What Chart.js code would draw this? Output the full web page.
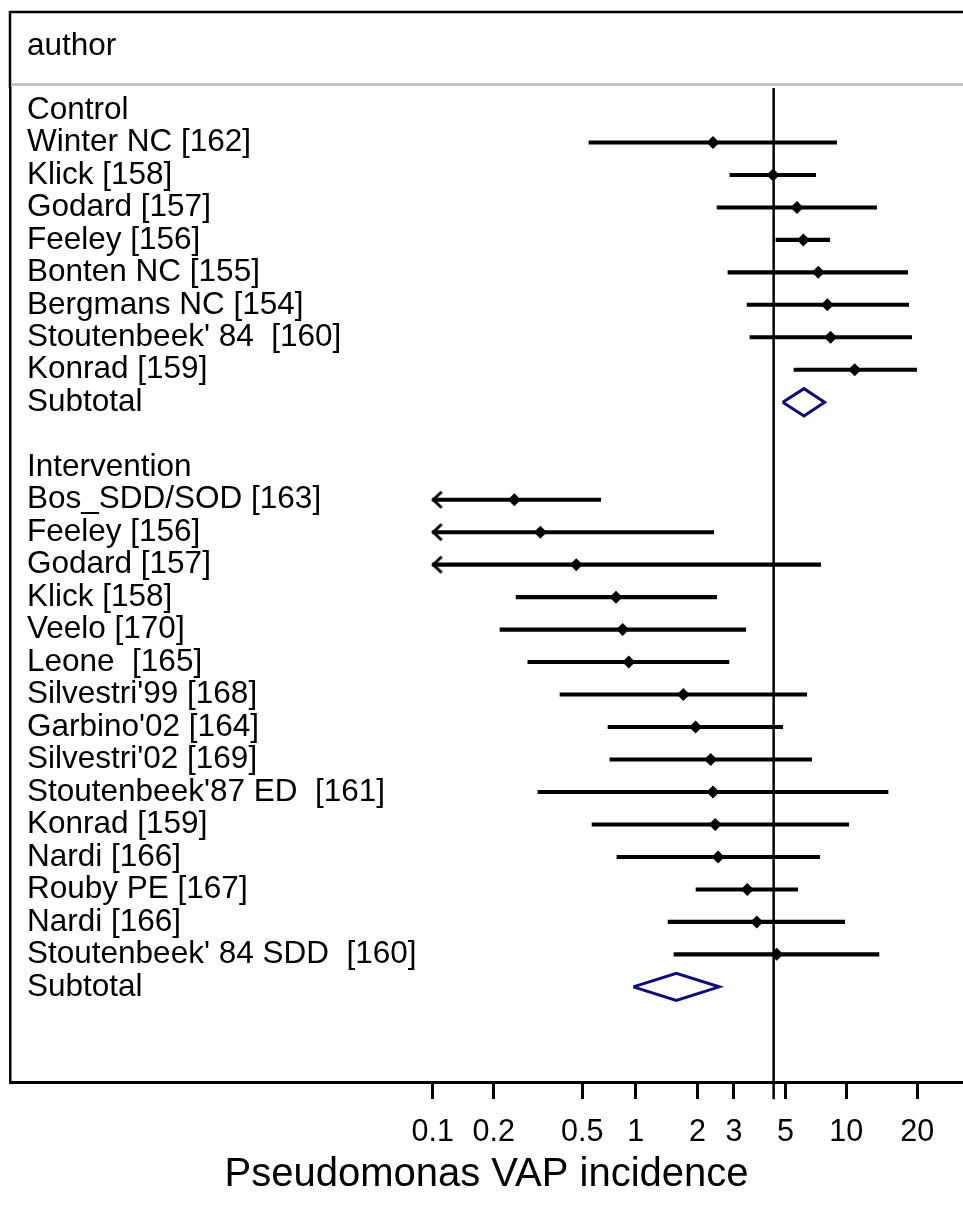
<!DOCTYPE html>
<html>
<head>
<meta charset="utf-8">
<script src="https://cdn.jsdelivr.net/npm/chart.js@4.4.1/dist/chart.umd.min.js"></script>
<style>
html,body{margin:0;padding:0;background:#fff;}
#wrap{width:963px;height:1222px;position:relative;}
</style>
</head>
<body>
<div id="wrap"><canvas id="c" width="963" height="1222"></canvas></div>
<script>
// ---------------- data ----------------
const headerLabel = 'author';
const axisTitle = 'Pseudomonas VAP incidence';

const rowLabels = [
  "Control",
  "Winter NC [162]",
  "Klick [158]",
  "Godard [157]",
  "Feeley [156]",
  "Bonten NC [155]",
  "Bergmans NC [154]",
  "Stoutenbeek' 84  [160]",
  "Konrad [159]",
  "Subtotal",
  "",
  "Intervention",
  "Bos_SDD/SOD [163]",
  "Feeley [156]",
  "Godard [157]",
  "Klick [158]",
  "Veelo [170]",
  "Leone  [165]",
  "Silvestri'99 [168]",
  "Garbino'02 [164]",
  "Silvestri'02 [169]",
  "Stoutenbeek'87 ED  [161]",
  "Konrad [159]",
  "Nardi [166]",
  "Rouby PE [167]",
  "Nardi [166]",
  "Stoutenbeek' 84 SDD  [160]",
  "Subtotal"
];

// study estimates (%) ; null = no study on that row
const estimate = [null, 2.38, 4.61, 5.97, 6.39, 7.48, 8.23, 8.52, 10.91, null, null, null,
  0.253, 0.340, 0.511, 0.801, 0.864, 0.925, 1.71, 1.96, 2.32, 2.38, 2.44, 2.52, 3.48, 3.86, 4.80, null];
// lower CI (%) ; null on a study row = below the axis (drawn clipped with an arrow)
const lower = [null, 0.59, 2.87, 2.49, 4.76, 2.81, 3.47, 3.58, 5.78, null, null, null,
  null, null, null, 0.258, 0.215, 0.295, 0.425, 0.732, 0.748, 0.331, 0.611, 0.810, 1.97, 1.44, 1.54, null];
const upper = [null, 9.07, 7.28, 13.59, 8.43, 18.30, 18.47, 18.99, 19.88, null, null, null,
  0.674, 2.40, 7.68, 2.48, 3.42, 2.84, 6.62, 5.12, 6.98, 15.18, 10.27, 7.60, 6.01, 9.85, 13.90, null];

const subtotalRows = [9, 27];
const subtotalEstimate = [6.43, 1.58];
const subtotalLower = [5.12, 0.974];
const subtotalUpper = [8.00, 2.55];

const referenceValue = 4.64;
const axisFloor = 0.1;

const tickValues = [0.1, 0.2, 0.547, 1, 2, 3, 5.27, 10, 20];
const tickLabels = ['0.1', '0.2', '0.5', '1', '2', '3', '5', '10', '20'];

// ---------------- build ----------------
const lg = p => Math.log(p / (100 - p));   // logit of a percentage

const FONT = "'Liberation Sans', Arial, Helvetica, sans-serif";
Chart.defaults.font.family = FONT;
Chart.defaults.color = '#000';

const X_MIN = -11.722, X_MAX = -0.866;   // axis range (logit units)
const Y_MIN = -0.677, Y_MAX = 29.93;     // row range
const DIAMOND_HALF = 0.42;
const NAVY = '#0d0d75';

const studyRows = estimate.map((v, i) => v === null ? null : i).filter(i => i !== null);

const ciData = studyRows.map(i => ({
  y: i,
  x: [lg(lower[i] === null ? axisFloor : lower[i]), lg(upper[i])]
}));
const pointData = studyRows.map(i => ({ x: lg(estimate[i]), y: i }));
const arrowData = studyRows.filter(i => lower[i] === null).map(i => ({ x: lg(axisFloor), y: i }));

// arrow head image
const arrowImg = document.createElement('canvas');
arrowImg.width = 24; arrowImg.height = 20;
(function () {
  const c = arrowImg.getContext('2d');
  c.strokeStyle = '#000'; c.lineWidth = 3; c.lineCap = 'butt'; c.lineJoin = 'miter';
  c.beginPath(); c.moveTo(21, 2); c.lineTo(12.5, 10); c.lineTo(21, 18); c.stroke();
})();

const diamondSets = subtotalRows.map((r, k) => ({
  type: 'line',
  data: [
    { x: lg(subtotalLower[k]), y: r },
    { x: lg(subtotalEstimate[k]), y: r - DIAMOND_HALF },
    { x: lg(subtotalUpper[k]), y: r },
    { x: lg(subtotalEstimate[k]), y: r + DIAMOND_HALF },
    { x: lg(subtotalLower[k]), y: r }
  ],
  borderColor: NAVY,
  borderWidth: 3,
  borderJoinStyle: 'miter',
  pointRadius: 0,
  pointHoverRadius: 0,
  fill: false,
  tension: 0,
  order: 1
}));

const framePlugin = {
  id: 'frame',
  beforeDraw(chart) {
    const { ctx, chartArea: a } = chart;
    ctx.save();
    ctx.fillStyle = '#fff';
    ctx.fillRect(0, 0, chart.width, chart.height);
    ctx.strokeStyle = '#000';
    ctx.lineWidth = 2.5;
    ctx.beginPath();
    ctx.moveTo(a.left, 12); ctx.lineTo(chart.width, 12);
    ctx.moveTo(a.left, 11); ctx.lineTo(a.left, a.top);
    ctx.stroke();
    ctx.strokeStyle = '#c4c4c4';
    ctx.lineWidth = 3;
    ctx.beginPath();
    ctx.moveTo(a.left + 1, 84.5); ctx.lineTo(chart.width, 84.5);
    ctx.stroke();
    ctx.fillStyle = '#000';
    ctx.font = '31.5px ' + FONT;
    ctx.textBaseline = 'middle';
    ctx.textAlign = 'left';
    ctx.fillText(headerLabel, 27, 46);
    ctx.restore();
  }
};

new Chart(document.getElementById('c'), {
  type: 'scatter',
  data: {
    datasets: [
      {
        type: 'line',
        data: [{ x: lg(referenceValue), y: Y_MIN }, { x: lg(referenceValue), y: Y_MAX + 0.53 }],
        borderColor: '#000',
        borderWidth: 2.5,
        pointRadius: 0,
        pointHoverRadius: 0,
        fill: false,
        clip: false,
        order: 10
      },
      {
        type: 'bar',
        indexAxis: 'y',
        data: ciData,
        backgroundColor: '#000',
        borderWidth: 0,
        barThickness: 3.4,
        order: 5
      },
      {
        type: 'scatter',
        data: arrowData,
        pointStyle: arrowImg,
        pointRadius: 10,
        order: 4
      },
      {
        type: 'scatter',
        data: pointData,
        pointStyle: 'rectRot',
        pointRadius: 6.5,
        backgroundColor: '#000',
        borderColor: '#000',
        borderWidth: 0,
        order: 2
      },
      ...diamondSets
    ]
  },
  options: {
    responsive: false,
    animation: false,
    devicePixelRatio: 1,
    layout: { autoPadding: false, padding: { left: 10, right: 0, top: 88, bottom: 0 } },
    plugins: { legend: { display: false }, tooltip: { enabled: false } },
    events: [],
    scales: {
      x: {
        type: 'linear',
        position: 'bottom',
        offset: false,
        beginAtZero: false,
        min: X_MIN,
        max: X_MAX,
        afterBuildTicks: s => { s.ticks = tickValues.map(v => ({ value: lg(v) })); },
        afterFit: s => { s.height = 140; s.paddingLeft = 0; s.paddingRight = 0; },
        ticks: {
          callback: (v, i) => tickLabels[i],
          autoSkip: false,
          maxRotation: 0,
          minRotation: 0,
          padding: 15,
          color: '#000',
          font: { size: 30.5, family: FONT }
        },
        grid: {
          display: true,
          offset: false,
          drawOnChartArea: false,
          drawTicks: true,
          tickLength: 17,
          lineWidth: 3,
          color: '#000'
        },
        border: { display: true, width: 3, color: '#000' },
        title: {
          display: true,
          text: axisTitle,
          color: '#000',
          font: { size: 40, family: FONT, lineHeight: 1 },
          padding: { top: 0, bottom: 27 }
        }
      },
      y: {
        type: 'linear',
        position: 'left',
        offset: false,
        reverse: true,
        min: Y_MIN,
        max: Y_MAX,
        afterBuildTicks: s => { s.ticks = rowLabels.map((_, i) => ({ value: i })); },
        afterFit: s => { s.width = 0; s.paddingTop = 0; s.paddingBottom = 0; },
        ticks: {
          mirror: true,
          padding: 17,
          autoSkip: false,
          callback: (v, i) => rowLabels[i],
          color: '#000',
          font: { size: 31.5, family: FONT }
        },
        grid: { display: false, offset: false, drawTicks: false },
        border: { display: true, width: 2.5, color: '#000' }
      }
    }
  },
  plugins: [framePlugin]
});
</script>
</body>
</html>
